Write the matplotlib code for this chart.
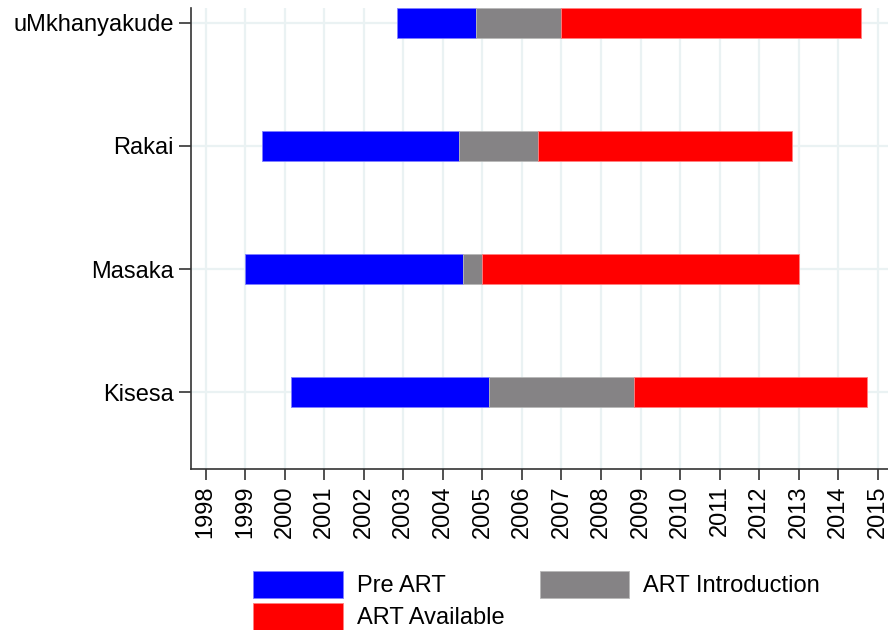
import matplotlib.pyplot as plt
from matplotlib.patches import Patch

plt.rcParams['font.family'] = ['Liberation Sans', 'DejaVu Sans']

# Sites (bottom to top) and period boundaries (calendar years)
sites = ['Kisesa', 'Masaka', 'Rakai', 'uMkhanyakude']
start_year = [2000.17, 1999.0, 1999.42, 2002.84]
art_intro_year = [2005.16, 2004.5, 2004.42, 2004.83]
art_avail_year = [2008.83, 2005.0, 2006.41, 2007.0]
end_year = [2014.74, 2013.0, 2012.83, 2014.58]
years = list(range(1998, 2016))

c_pre = '#0000ff'
c_intro = '#858385'
c_avail = '#ff0000'
grid_c = '#eaf2f3'

fig = plt.figure(figsize=(8.88, 6.3), dpi=100)
ax = fig.add_axes([190.5 / 888, 1 - 469 / 630, 1 - 190.5 / 888, (469 - 8) / 630])

ypos = [1, 2, 3, 4]
h = 0.24
pre_w = [b - a for a, b in zip(start_year, art_intro_year)]
intro_w = [b - a for a, b in zip(art_intro_year, art_avail_year)]
avail_w = [b - a for a, b in zip(art_avail_year, end_year)]

ax.barh(ypos, pre_w, left=start_year, height=h, color=c_pre,
        edgecolor='#7f7fff', linewidth=0.6, zorder=3)
ax.barh(ypos, intro_w, left=art_intro_year, height=h, color=c_intro,
        edgecolor='#b8b8b8', linewidth=0.6, zorder=3)
ax.barh(ypos, avail_w, left=art_avail_year, height=h, color=c_avail,
        edgecolor='#ff8080', linewidth=0.6, zorder=3)

ax.set_xlim(1997.615, 2015.26)
ax.set_ylim(0.376, 4.12)
ax.set_xticks(years)
ax.set_xticklabels([str(y) for y in years], rotation=90, fontsize=17)
ax.set_yticks(ypos)
ax.set_yticklabels(sites, fontsize=17)
ax.tick_params(axis='x', length=8, width=1.2, pad=4, color='#333333')
ax.tick_params(axis='y', length=9, width=1.2, pad=3, color='#333333')
ax.grid(True, color=grid_c, linewidth=1.6, zorder=0)
ax.set_axisbelow(True)
for s in ['top', 'right']:
    ax.spines[s].set_visible(False)
for s in ['left', 'bottom']:
    ax.spines[s].set_linewidth(1.2)
    ax.spines[s].set_color('#333333')

# legend fills column by column: Pre ART / ART Available, then ART Introduction
handles = [Patch(facecolor=c_pre, edgecolor='#7f7fff', linewidth=0.6),
           Patch(facecolor=c_avail, edgecolor='#ff8080', linewidth=0.6),
           Patch(facecolor=c_intro, edgecolor='#b8b8b8', linewidth=0.6)]
labels = ['Pre ART', 'ART Available', 'ART Introduction']
fig.legend(handles, labels, ncol=2, loc='upper left',
           bbox_to_anchor=(253 / 888, 1 - 571 / 630), frameon=False,
           fontsize=17, handlelength=3.8, handleheight=1.39,
           handletextpad=0.59, labelspacing=0.21, columnspacing=1.5,
           borderpad=0, borderaxespad=0)

fig.savefig('out.png', dpi=100)
